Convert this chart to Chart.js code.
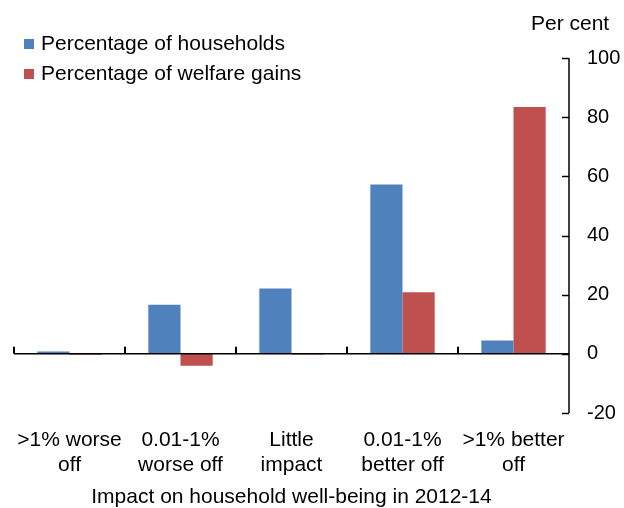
<!DOCTYPE html>
<html>
<head>
<meta charset="utf-8">
<script src="https://cdn.jsdelivr.net/npm/chart.js@4.4.1/dist/chart.umd.min.js"></script>
<style>
  html, body { margin: 0; padding: 0; background: #ffffff; }
  #wrap { width: 624px; height: 508px; }
</style>
</head>
<body>
<div id="wrap"><canvas id="chart" width="624" height="508"></canvas></div>
<script>
// Distribution of households and of welfare gains by impact band
const categories = [
  [">1% worse", "off"],
  ["0.01-1%", "worse off"],
  ["Little", "impact"],
  ["0.01-1%", "better off"],
  [">1% better", "off"]
];
const householdShares = [0.8, 16.6, 22.1, 57.2, 4.5];
const welfareGainShares = [-0.3, -4.0, -0.2, 20.8, 83.4];
const seriesNames = ["Percentage of households", "Percentage of welfare gains"];
const seriesColors = ["#4F81BD", "#C0504D"];
const yTicks = [-20, 0, 20, 40, 60, 80, 100];
const unitLabel = "Per cent";
const xTitle = "Impact on household well-being in 2012-14";

const FONT = "'Liberation Sans', Arial, sans-serif";

// Axis lines and inward tick marks: zero line with category ticks, right value axis
const axisMarks = {
  id: 'axisMarks',
  afterDatasetsDraw(chart) {
    const { ctx, chartArea, scales } = chart;
    const xs = scales.x, ys = scales.y;
    const y0 = ys.getPixelForValue(0);
    const step = xs.getPixelForValue(1) - xs.getPixelForValue(0);
    ctx.save();
    ctx.strokeStyle = '#000000';
    ctx.lineWidth = 1.5;
    // zero line
    ctx.beginPath();
    ctx.moveTo(chartArea.left, y0);
    ctx.lineTo(chartArea.right, y0);
    ctx.stroke();
    // category boundary ticks
    ctx.lineWidth = 2;
    for (let i = 0; i < categories.length; i++) {
      const bx = Math.round(xs.getPixelForValue(i) - step / 2);
      ctx.beginPath();
      ctx.moveTo(bx, y0);
      ctx.lineTo(bx, y0 - 7);
      ctx.stroke();
    }
    // value axis line on the right
    ctx.lineWidth = 1.5;
    const ax = chartArea.right;
    ctx.beginPath();
    ctx.moveTo(ax, ys.getPixelForValue(yTicks[yTicks.length - 1]));
    ctx.lineTo(ax, ys.getPixelForValue(yTicks[0]));
    ctx.stroke();
    yTicks.forEach(v => {
      const ty = Math.round(ys.getPixelForValue(v)) + 0.5;
      ctx.beginPath();
      ctx.moveTo(ax, ty);
      ctx.lineTo(ax - 7, ty);
      ctx.stroke();
    });
    ctx.restore();
  }
};

// Stacked legend in the top-left corner and the unit label above the axis
const cornerText = {
  id: 'cornerText',
  afterDraw(chart) {
    const { ctx } = chart;
    ctx.save();
    ctx.font = "21px " + FONT;
    ctx.textBaseline = 'alphabetic';
    ctx.textAlign = 'left';
    chart.data.datasets.forEach((ds, i) => {
      const base = 49.5 + i * 30;
      ctx.fillStyle = ds.backgroundColor;
      ctx.fillRect(24, base - 10.5, 10, 10);
      ctx.fillStyle = '#000000';
      ctx.fillText(ds.label, 41, base);
    });
    ctx.fillText(unitLabel, 531, 29.5);
    ctx.restore();
  }
};

new Chart(document.getElementById('chart'), {
  type: 'bar',
  data: {
    labels: categories,
    datasets: [
      { label: seriesNames[0], data: householdShares, backgroundColor: seriesColors[0] },
      { label: seriesNames[1], data: welfareGainShares, backgroundColor: seriesColors[1] }
    ]
  },
  options: {
    responsive: false,
    animation: false,
    events: [],
    layout: { padding: { left: 14, top: 58, right: 0, bottom: 0 } },
    datasets: { bar: { categoryPercentage: 0.58, barPercentage: 1.0, borderWidth: 0 } },
    plugins: {
      legend: { display: false },
      title: { display: false },
      tooltip: { enabled: false }
    },
    scales: {
      x: {
        grid: { display: false, drawTicks: false, tickLength: 0 },
        border: { display: false },
        ticks: {
          autoSkip: false,
          maxRotation: 0,
          minRotation: 0,
          color: '#000000',
          padding: 15,
          font: { family: FONT, size: 21, lineHeight: 1.17 }
        },
        title: {
          display: true,
          text: xTitle,
          color: '#000000',
          font: { family: FONT, size: 21, lineHeight: 1.0 },
          padding: { top: 0, bottom: 0 }
        },
        afterFit(scale) { scale.height = 95; }
      },
      y: {
        position: 'right',
        min: yTicks[0],
        max: yTicks[yTicks.length - 1],
        afterBuildTicks(scale) { scale.ticks = yTicks.map(v => ({ value: v })); },
        grid: { display: false, drawTicks: false, tickLength: 0 },
        border: { display: false },
        ticks: {
          color: '#000000',
          padding: 18,
          font: { family: FONT, size: 20 }
        },
        afterFit(scale) { scale.width = 55; }
      }
    }
  },
  plugins: [axisMarks, cornerText]
});
</script>
</body>
</html>
